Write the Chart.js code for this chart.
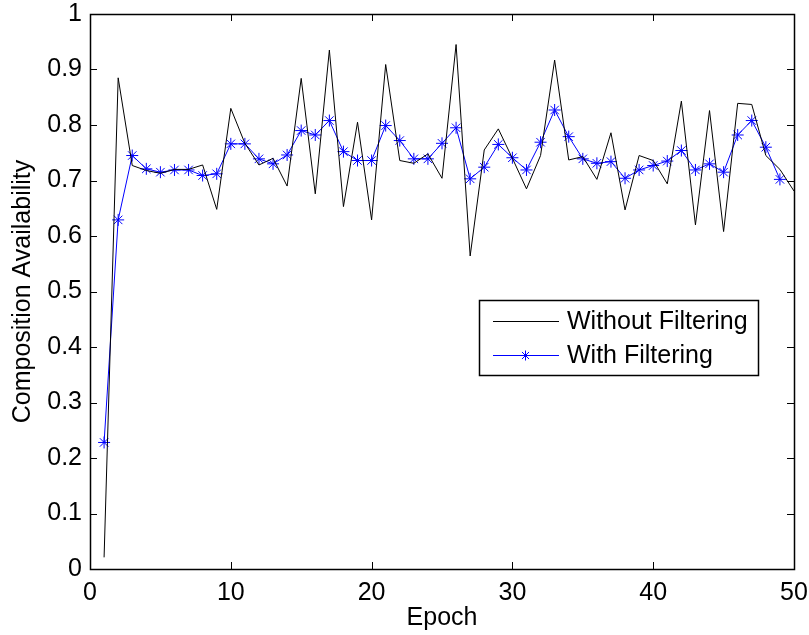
<!DOCTYPE html>
<html>
<head>
<meta charset="utf-8">
<script src="https://cdn.jsdelivr.net/npm/chart.js@4/dist/chart.umd.min.js"></script>
<style>
html,body{margin:0;padding:0;background:#fff;}
#wrap{width:809px;height:635px;position:relative;}
</style>
</head>
<body>
<div id="wrap"><canvas id="c" width="809" height="635"></canvas></div>
<script>
const epochs = [1,2,3,4,5,6,7,8,9,10,11,12,13,14,15,16,17,18,19,20,21,22,23,24,25,26,27,28,29,30,31,32,33,34,35,36,37,38,39,40,41,42,43,44,45,46,47,48,49,50];
const withoutFiltering = [0.021,0.885,0.727,0.718,0.713,0.720,0.720,0.728,0.648,0.830,0.767,0.728,0.740,0.690,0.884,0.676,0.935,0.653,0.805,0.629,0.909,0.736,0.731,0.748,0.704,0.945,0.564,0.755,0.793,0.740,0.685,0.745,0.917,0.737,0.743,0.702,0.786,0.647,0.745,0.736,0.694,0.843,0.620,0.826,0.608,0.839,0.837,0.745,0.720,0.681];
const filteringEpochs = [1,2,3,4,5,6,7,8,9,10,11,12,13,14,15,16,17,18,19,20,21,22,23,24,25,26,27,28,29,30,31,32,33,34,35,36,37,38,39,40,41,42,43,44,45,46,47,48,49];
const withFiltering = [0.228,0.629,0.745,0.721,0.715,0.719,0.719,0.709,0.712,0.766,0.766,0.739,0.730,0.746,0.790,0.782,0.808,0.752,0.736,0.736,0.799,0.772,0.739,0.739,0.767,0.795,0.703,0.724,0.765,0.741,0.719,0.769,0.827,0.779,0.739,0.731,0.734,0.704,0.719,0.727,0.735,0.754,0.719,0.730,0.715,0.782,0.808,0.760,0.702];
const xTicks = [0,10,20,30,40,50];
const yTicks = [0,0.1,0.2,0.3,0.4,0.5,0.6,0.7,0.8,0.9,1];
const seriesNames = ['Without Filtering','With Filtering'];

const FONT = 'Liberation Sans, Arial, Helvetica, sans-serif';
const FS = 25;

const boxTicks = {
  id: 'boxTicks',
  afterDraw(chart) {
    const ctx = chart.ctx, a = chart.chartArea;
    const xs = chart.scales.x, ys = chart.scales.y;
    ctx.save();
    ctx.strokeStyle = '#000';
    ctx.lineWidth = 1;
    ctx.beginPath();
    const L = 7;
    xTicks.forEach(v => {
      const px = Math.round(xs.getPixelForValue(v)) + 0.5;
      ctx.moveTo(px, a.bottom); ctx.lineTo(px, a.bottom - L);
      ctx.moveTo(px, a.top); ctx.lineTo(px, a.top + L);
    });
    yTicks.forEach(v => {
      const py = Math.round(ys.getPixelForValue(v)) + 0.5;
      ctx.moveTo(a.left, py); ctx.lineTo(a.left + L, py);
      ctx.moveTo(a.right, py); ctx.lineTo(a.right - L, py);
    });
    ctx.stroke();
    ctx.lineWidth = 1.5;
    ctx.strokeRect(a.left + 0.5, a.top + 0.5, a.right - a.left, a.bottom - a.top);
    // legend
    const lx = 479, ly = 300, lw = 279, lh = 75;
    ctx.fillStyle = '#fff';
    ctx.fillRect(lx, ly, lw, lh);
    ctx.lineWidth = 1.5;
    ctx.strokeRect(lx + 0.5, ly + 0.5, lw, lh);
    const ds = chart.data.datasets;
    const rows = [321, 355];
    ctx.font = FS + 'px ' + FONT;
    ctx.textBaseline = 'middle';
    ctx.textAlign = 'left';
    ds.forEach((d, i) => {
      const y = rows[i] + 0.5;
      ctx.strokeStyle = d.borderColor;
      ctx.lineWidth = 1;
      ctx.beginPath();
      ctx.moveTo(493, y); ctx.lineTo(559, y);
      ctx.stroke();
      if (d.pointStyle && d.pointRadius > 0) {
        ctx.strokeStyle = d.borderColor;
        Chart.helpers.drawPoint(ctx, {pointStyle: d.pointStyle, radius: 5, borderWidth: 1, rotation: 0}, 525.5, y);
      }
      ctx.fillStyle = '#000';
      ctx.fillText(d.label, 567, rows[i] + 1);
    });
    ctx.restore();
  }
};

new Chart(document.getElementById('c'), {
  type: 'line',
  data: {
    datasets: [
      {
        label: seriesNames[0],
        data: epochs.map((e, i) => ({x: e, y: withoutFiltering[i]})),
        borderColor: '#000000',
        backgroundColor: '#000000',
        borderWidth: 1,
        pointRadius: 0,
        tension: 0
      },
      {
        label: seriesNames[1],
        data: filteringEpochs.map((e, i) => ({x: e, y: withFiltering[i]})),
        borderColor: '#0000ff',
        backgroundColor: '#0000ff',
        borderWidth: 1,
        pointStyle: 'star',
        pointRadius: 6,
        pointBorderWidth: 1,
        pointBorderColor: '#0000ff',
        tension: 0
      }
    ]
  },
  options: {
    responsive: false,
    animation: false,
    devicePixelRatio: 1,
    layout: {padding: {top: 14, right: 15, left: 0, bottom: 0}},
    plugins: {legend: {display: false}, tooltip: {enabled: false}},
    scales: {
      x: {
        type: 'linear', min: 0, max: 50,
        afterBuildTicks: s => { s.ticks = xTicks.map(v => ({value: v})); },
        afterFit: s => { s.height = 66; s.paddingLeft = 0; s.paddingRight = 0; },
        grid: {display: false, drawTicks: false},
        border: {display: false},
        ticks: {color: '#000', font: {family: FONT, size: FS}, padding: 9, maxRotation: 0},
        title: {display: true, text: 'Epoch', color: '#000', font: {family: FONT, size: FS}, padding: {top: 0, bottom: 2}}
      },
      y: {
        type: 'linear', min: 0, max: 1,
        afterBuildTicks: s => { s.ticks = yTicks.map(v => ({value: v})); },
        afterFit: s => { s.width = 90; s.paddingTop = 0; s.paddingBottom = 0; },
        grid: {display: false, drawTicks: false},
        border: {display: false},
        ticks: {color: '#000', font: {family: FONT, size: FS}, padding: 8,
          callback: v => String(Math.round(v * 10) / 10)},
        title: {display: true, text: 'Composition Availability', color: '#000', font: {family: FONT, size: FS}, padding: {top: 8, bottom: 0}}
      }
    }
  },
  plugins: [boxTicks]
});
</script>
</body>
</html>
